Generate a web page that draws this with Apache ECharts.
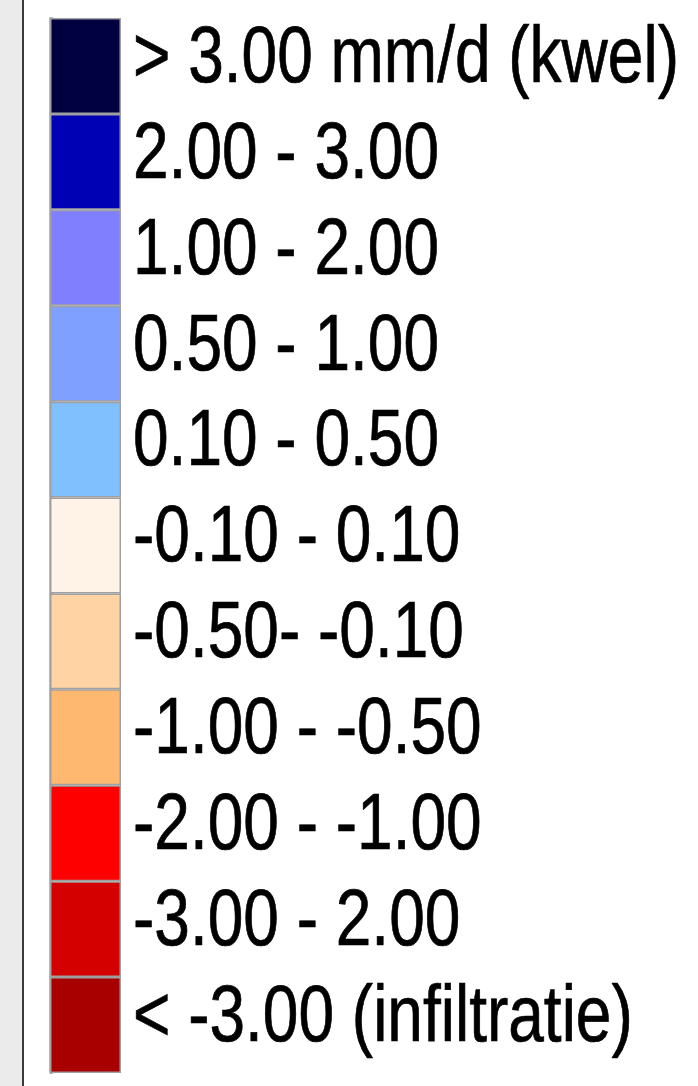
<!DOCTYPE html>
<html>
<head>
<meta charset="utf-8">
<script src="https://cdn.jsdelivr.net/npm/echarts@6/dist/echarts.min.js"></script>
<style>
  html, body { margin: 0; padding: 0; background: #fff; }
  #chart { width: 698px; height: 1086px; }
</style>
</head>
<body>
<div id="chart"></div>
<script>
// legend classes, top to bottom
var classLabels = [
  '> 3.00 mm/d (kwel)',
  '2.00 - 3.00',
  '1.00 - 2.00',
  '0.50 - 1.00',
  '0.10 - 0.50',
  '-0.10 - 0.10',
  '-0.50- -0.10',
  '-1.00 - -0.50',
  '-2.00 - -1.00',
  '-3.00 - 2.00',
  '< -3.00 (infiltratie)'
];
var classColors = [
  '#000040', '#0000B4', '#8080FF', '#80A0FF', '#80C0FF',
  '#FFF2E6', '#FFD3A3', '#FFB870', '#FF0000', '#D40000', '#A80000'
];
var swatchValues = [1, 1, 1, 1, 1, 1, 1, 1, 1, 1, 1];

var chart = echarts.init(document.getElementById('chart'), null, {renderer: 'canvas'});

var barData = swatchValues.map(function(v, i){
  return { value: v, itemStyle: { color: classColors[i] } };
});
var labelData = swatchValues.map(function(v, i){
  return [v, i];
});

chart.setOption({
  animation: false,
  backgroundColor: '#ffffff',
  graphic: [
    { type: 'rect', left: 0, top: 0, shape: {width: 22, height: 1086}, style: {fill: '#ebebeb'} },
    { type: 'rect', left: 22, top: 0, shape: {width: 2, height: 1086}, style: {fill: '#3c3c3c'} }
  ],
  grid: { left: 50, top: 18, width: 71, height: 1055 },
  xAxis: {
    type: 'value', min: 0, max: 1, show: false
  },
  yAxis: {
    type: 'category',
    inverse: true,
    position: 'right',
    data: classLabels,
    axisLine: { show: true, lineStyle: { color: '#a0a0a0', width: 1.5 } },
    axisTick: { show: true, length: 3, lineStyle: { color: '#a0a0a0', width: 1.5 } },
    axisLabel: { show: false },
    splitLine: { show: false }
  },
  series: [
    {
      type: 'bar',
      barWidth: '100%',
      data: barData,
      itemStyle: { borderColor: '#a0a0a0', borderWidth: 1.5 },
      silent: true
    },
    {
      type: 'custom',
      data: labelData,
      silent: true,
      renderItem: function(params, api){
        var idx = api.value(1);
        var p = api.coord([api.value(0), idx]);
        return {
          type: 'text',
          x: p[0] + 12,
          y: p[1] - 6,
          scaleY: 1.24,
          style: {
            text: classLabels[idx],
            x: 0, y: 0,
            fill: '#000',
            font: '64px "Liberation Sans", Arial, sans-serif',
            textAlign: 'left',
            textVerticalAlign: 'middle',
            stroke: '#000',
            lineWidth: 0.6
          }
        };
      }
    }
  ]
});
</script>
</body>
</html>
